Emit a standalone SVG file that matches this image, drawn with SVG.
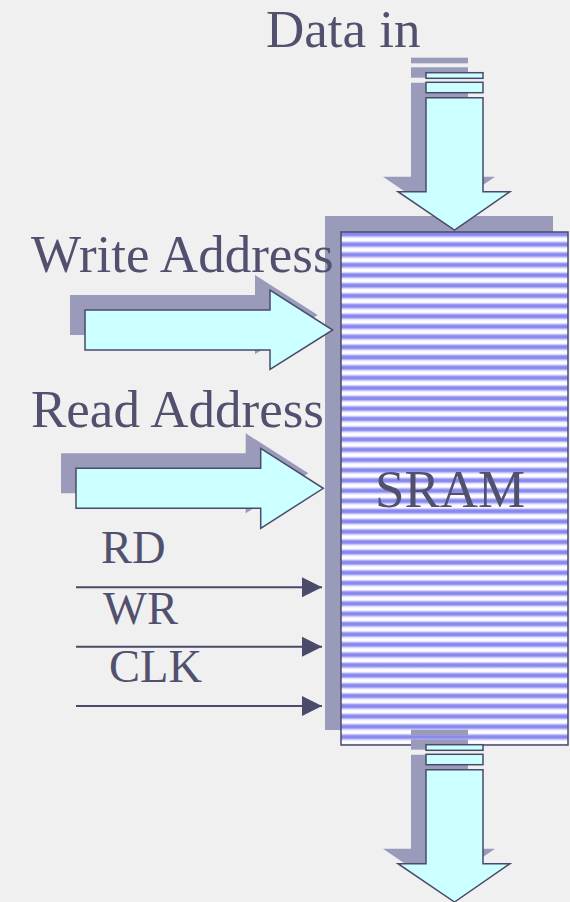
<svg xmlns="http://www.w3.org/2000/svg" width="570" height="902" viewBox="0 0 570 902">
<defs>
<style>
.lbl{font-family:"Liberation Serif","Times New Roman",serif;fill:#51516f;font-size:53px}
.sig{font-size:46.5px}
.shadow{fill:#9a9abb}
.front{fill:#ccffff;stroke:#4a4a6a;stroke-width:1.5}
.wire{stroke:#4a4a6a;stroke-width:2;fill:none}
</style>
<linearGradient id="sg" x1="0" y1="0" x2="0" y2="1">
<stop offset="0" stop-color="#8888f0"/>
<stop offset="0.22" stop-color="#8888f0"/>
<stop offset="0.42" stop-color="#e2e2fb"/>
<stop offset="0.55" stop-color="#ffffff"/>
<stop offset="0.75" stop-color="#ffffff"/>
<stop offset="0.88" stop-color="#c8c8f8"/>
<stop offset="1" stop-color="#8888f0"/>
</linearGradient>
<pattern id="stripes" patternUnits="userSpaceOnUse" x="0" y="233" width="20" height="10.26">
<rect width="20" height="10.26" fill="url(#sg)"/>
</pattern>
<marker id="ah" markerUnits="userSpaceOnUse" markerWidth="20" markerHeight="20" refX="20" refY="10" orient="auto">
<polygon points="0,0 20,10 0,20" fill="#4a4a6a"/>
</marker>
<g id="vArrow">
<rect x="426" y="72.7" width="57" height="5.6"/>
<rect x="426" y="82.3" width="57" height="10.4"/>
<polygon points="426,97.7 483,97.7 483,191.7 510,191.7 454.5,230 398,191.7 426,191.7"/>
</g>
</defs>
<rect width="570" height="902" fill="#f0f0f0"/>

<g id="sram">
<rect class="shadow" x="325" y="216" width="228" height="514"/>
<rect x="341" y="232" width="227" height="513" fill="url(#stripes)" stroke="#4a4a6a" stroke-width="1.5"/>
<text class="lbl" x="375" y="507">SRAM</text>
</g>

<g id="data-in">
<text class="lbl" x="266" y="47">Data in</text>
<use href="#vArrow" class="shadow" transform="translate(-15,-15)"/>
<use href="#vArrow" class="front"/>
</g>

<g id="data-out">
<use href="#vArrow" class="shadow" transform="translate(-15,657)"/>
<use href="#vArrow" class="front" transform="translate(0,672)"/>
</g>

<g id="write-address">
<text class="lbl" x="31" y="272">Write Address</text>
<polygon class="shadow" points="70,295 255,295 255,275 317.7,315 255,354.3 255,335 70,335"/>
<polygon class="front" points="85,310 270,310 270,290 332.7,330 270,369.3 270,350 85,350"/>
</g>

<g id="read-address">
<text class="lbl" x="31" y="427">Read Address</text>
<polygon class="shadow" points="61,453.3 245.7,453.3 245.7,433.3 308.3,473.3 245.7,513.3 245.7,493.3 61,493.3"/>
<polygon class="front" points="76,468.3 260.7,468.3 260.7,448.3 323.3,488.3 260.7,528.3 260.7,508.3 76,508.3"/>
</g>

<g id="rd"><text class="lbl sig" x="101" y="563">RD</text></g>
<g id="wr"><text class="lbl sig" x="103" y="624">WR</text></g>
<g id="clk"><text class="lbl sig" x="109" y="682">CLK</text></g>

<g id="connectors">
<line class="wire" x1="76" y1="587.3" x2="322" y2="587.3" marker-end="url(#ah)"/>
<line class="wire" x1="76" y1="646.7" x2="322" y2="646.7" marker-end="url(#ah)"/>
<line class="wire" x1="76" y1="706" x2="322" y2="706" marker-end="url(#ah)"/>
</g>
</svg>
